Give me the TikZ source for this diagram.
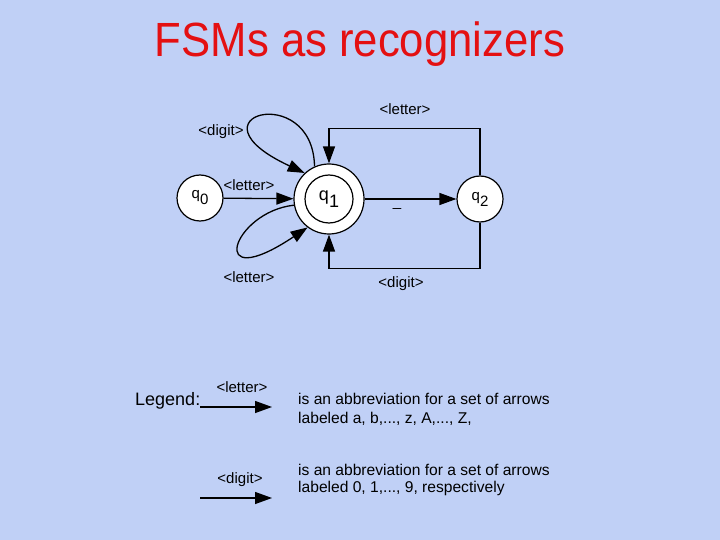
\documentclass[tikz,border=0pt]{standalone}
\usepackage{fontspec}
\setmainfont{Liberation Sans}
\usetikzlibrary{arrows.meta}
\definecolor{slidebg}{RGB}{192,208,246}
\definecolor{titlered}{RGB}{228,16,18}
\tikzset{
  state/.style={circle,draw,fill=white,line width=1.2pt,inner sep=0pt},
  trans/.style={line width=1.3pt,-{Triangle[length=17pt,width=12pt]}},
  lab/.style={font=\fontsize{15}{15}\selectfont,inner sep=0pt},
  txt/.style={font=\fontsize{15.6}{19}\selectfont,anchor=west,inner sep=0pt}
}
\newcommand{\stname}[3]{{\fontsize{#1}{#1}\selectfont q\raisebox{-0.4em}{#2}}#3}

\begin{document}
\begin{tikzpicture}[x=1pt,y=-1pt]
    \fill[slidebg] (0,0) rectangle (720,540);
    \node[font=\fontsize{48}{48}\selectfont,text=titlered,xscale=0.91] (title) at (360,44) {FSMs as recognizers};
    % states
    \node[state,minimum size=46pt] (q0) at (200,198) {\stname{15}{0}{}};
    \node[state,minimum size=70pt] (q1) at (329,199) {\stname{18}{1}{}};
    \draw[line width=1.2pt] (q1.center) circle (24pt);
    \node[state,minimum size=46pt] (q2) at (480,199) {\stname{15}{2}{}};
    % transitions
    \draw[trans] (q0) -- (q1);
    \draw[trans] (q1) -- (q2);
    \draw[trans] (q2.north) -- ++(0,-47) -| (q1.north);
    \draw[trans] (q2.south) -- ++(0,46) -| (q1.south);
    \draw[trans] (q1.114) .. controls (313,80) and (182,116) .. (q1.133);
    \draw[trans] (q1.190) .. controls (232,212) and (205,296) .. (q1.233);
    \node[lab] (l01) at (249,185) {<letter>};
    \node[lab] (l21) at (405,109) {<letter>};
    \node[lab] (d21) at (401,284) {<digit>};
    \node[lab] (d11) at (221,132) {<digit>};
    \node[lab] (l11) at (249,277) {<letter>};
    \node[lab] (u12) at (397,208) {\_};
    % legend
    \node[font=\fontsize{18}{18}\selectfont,anchor=west,inner sep=0pt] (legend) at (135,401) {Legend:};
    \coordinate (la) at (200,407);
    \coordinate (lb) at (272,407);
    \draw[trans] (la) -- (lb);
    \node[lab] (leglet) at (242,387) {<letter>};
    \node[txt] (t1) at (298,399) {is an abbreviation for a set of arrows};
    \node[txt] (t2) at (298,419) {labeled a, b,..., z, A,..., Z,};
    \coordinate (da) at (200,498);
    \coordinate (db) at (272,498);
    \draw[trans] (da) -- (db);
    \node[lab] (legdig) at (240,480) {<digit>};
    \node[txt] (t3) at (298,470) {is an abbreviation for a set of arrows};
    \node[txt] (t4) at (298,488) {labeled 0, 1,..., 9, respectively};
\end{tikzpicture}
\end{document}
